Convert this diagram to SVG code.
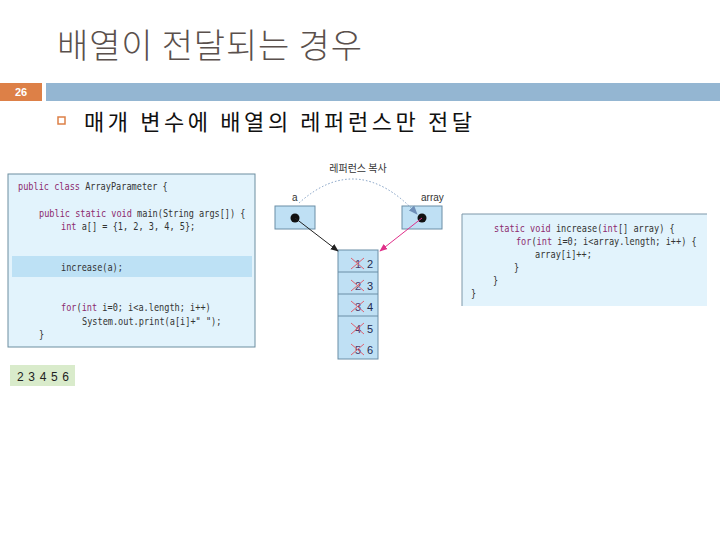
<svg xmlns="http://www.w3.org/2000/svg" width="720" height="540" viewBox="0 0 720 540">
<style>
.code{font-family:"DejaVu Sans Mono","Liberation Mono",monospace;font-size:11px;fill:#333;}
.kw{fill:#8c2a6e;}
.panel{fill:#e2f3fc;}
.cell{fill:#bfe0f4;stroke:#6b8ea6;stroke-width:1;}
.lbl{font-family:"Liberation Sans",Arial,sans-serif;font-size:10px;fill:#333;}
.old{font-family:"Liberation Sans",Arial,sans-serif;font-size:11px;fill:#4a3a6a;}
.new{font-family:"Liberation Sans",Arial,sans-serif;font-size:11px;fill:#1f2a50;}
.x{stroke:#e06070;stroke-width:1;}
</style>
<defs>
<marker id="ahBlack" viewBox="0 0 10 10" refX="9" refY="5" markerWidth="8" markerHeight="8" orient="auto" markerUnits="userSpaceOnUse"><path d="M0,1 L10,5 L0,9 Z" fill="#222"/></marker>
<marker id="ahMag" viewBox="0 0 10 10" refX="9" refY="5" markerWidth="8" markerHeight="8" orient="auto" markerUnits="userSpaceOnUse"><path d="M0,1 L10,5 L0,9 Z" fill="#e0308a"/></marker>
<marker id="ahBlue" viewBox="0 0 10 10" refX="9" refY="5" markerWidth="9" markerHeight="9" orient="auto" markerUnits="userSpaceOnUse"><path d="M0,1 L10,5 L0,9 Z" fill="#6f8fb8"/></marker>
</defs>
<rect width="720" height="540" fill="#ffffff"/>

<g id="title">
<text x="57" y="58" font-family="'Noto Sans CJK KR',sans-serif" font-size="34" font-weight="300" fill="#5a504c" textLength="305" lengthAdjust="spacing">배열이 전달되는 경우</text>
</g>

<g id="header-bar">
<rect x="0" y="83" width="42" height="18" fill="#dd8047"/>
<text x="21" y="96" text-anchor="middle" font-family="'Liberation Sans',Arial,sans-serif" font-size="11" font-weight="bold" fill="#ffffff">26</text>
<rect x="46" y="83" width="674" height="18" fill="#94b6d2"/>
</g>

<g id="bullet">
<rect x="58" y="117" width="7" height="7" fill="none" stroke="#dd8047" stroke-width="1.5"/>
<text x="84" y="130" font-family="'Noto Sans CJK KR',sans-serif" font-size="22" fill="#111" textLength="388" lengthAdjust="spacing">매개 변수에 배열의 레퍼런스만 전달</text>
</g>

<g id="main-code">
<rect x="8" y="174" width="247" height="173" class="panel" stroke="#6d8ea0" stroke-width="1"/>
<rect x="12" y="256" width="240" height="21" fill="#bde1f5"/>
<g transform="scale(0.78,1)">
<text class="code" x="23.1" y="190"><tspan class="kw">public class</tspan> ArrayParameter {</text>
<text class="code" x="50" y="217"><tspan class="kw">public static void</tspan> main(String args[]) {</text>
<text class="code" x="78.2" y="230"><tspan class="kw">int</tspan> a[] = {1, 2, 3, 4, 5};</text>
<text class="code" x="78.2" y="271">increase(a);</text>
<text class="code" x="78.2" y="311"><tspan class="kw">for</tspan>(<tspan class="kw">int</tspan> i=0; i&lt;a.length; i++)</text>
<text class="code" x="105.1" y="325">System.out.print(a[i]+" ");</text>
<text class="code" x="50" y="338">}</text>
</g>
</g>

<g id="output">
<rect x="10" y="365" width="65" height="21" fill="#d9ebcb"/>
<text x="17" y="381" font-family="'Liberation Sans',Arial,sans-serif" font-size="12" fill="#222" textLength="52" lengthAdjust="spacing">2 3 4 5 6</text>
</g>

<g id="copy-label">
<text x="358" y="172" text-anchor="middle" font-family="'Noto Sans CJK KR',sans-serif" font-size="10" fill="#333">레퍼런스 복사</text>
</g>

<g id="var-a">
<text class="lbl" x="292" y="201">a</text>
<rect x="275" y="206" width="40" height="23" class="cell"/>
<circle cx="295" cy="218" r="4.5" fill="#111"/>
</g>

<g id="var-array">
<text class="lbl" x="421" y="201">array</text>
<rect x="402" y="206" width="40" height="23" class="cell"/>
<circle cx="422" cy="218" r="4.5" fill="#111"/>
</g>

<g id="array-cells">
<rect x="338" y="250" width="40" height="109" class="cell"/>
<line x1="338" y1="272" x2="378" y2="272" stroke="#6b8ea6"/>
<line x1="338" y1="294" x2="378" y2="294" stroke="#6b8ea6"/>
<line x1="338" y1="316" x2="378" y2="316" stroke="#6b8ea6"/>
<text class="old" x="355" y="268">1</text><path class="x" d="M351,258 L364,269 M364,258 L351,269"/><text class="new" x="367" y="268">2</text>
<text class="old" x="355" y="290">2</text><path class="x" d="M351,280 L364,291 M364,280 L351,291"/><text class="new" x="367" y="290">3</text>
<text class="old" x="355" y="311">3</text><path class="x" d="M351,301 L364,312 M364,301 L351,312"/><text class="new" x="367" y="311">4</text>
<text class="old" x="355" y="333">4</text><path class="x" d="M351,323 L364,334 M364,323 L351,334"/><text class="new" x="367" y="333">5</text>
<text class="old" x="355" y="354">5</text><path class="x" d="M351,344 L364,355 M364,344 L351,355"/><text class="new" x="367" y="354">6</text>
</g>

<g id="connectors">
<path d="M299,203 Q358,150 417,214" fill="none" stroke="#7d9cc2" stroke-width="1" stroke-dasharray="1.5,2" marker-end="url(#ahBlue)"/>
<line x1="295" y1="218" x2="338" y2="251" stroke="#222" stroke-width="1" marker-end="url(#ahBlack)"/>
<line x1="422" y1="218" x2="380" y2="251" stroke="#e0308a" stroke-width="1" marker-end="url(#ahMag)"/>
</g>

<g id="increase-code">
<rect x="462" y="214" width="245" height="92" class="panel"/>
<line x1="462" y1="214" x2="707" y2="214" stroke="#7d97a8"/>
<line x1="462" y1="214" x2="462" y2="306" stroke="#7d97a8"/>
<g transform="scale(0.78,1)">
<text class="code" x="633.3" y="232"><tspan class="kw">static void</tspan> increase(<tspan class="kw">int</tspan>[] array) {</text>
<text class="code" x="661.5" y="245"><tspan class="kw">for</tspan>(<tspan class="kw">int</tspan> i=0; i&lt;array.length; i++) {</text>
<text class="code" x="685.9" y="258">array[i]++;</text>
<text class="code" x="659" y="271">}</text>
<text class="code" x="632.1" y="284">}</text>
<text class="code" x="603.8" y="297">}</text>
</g>
</g>
</svg>
